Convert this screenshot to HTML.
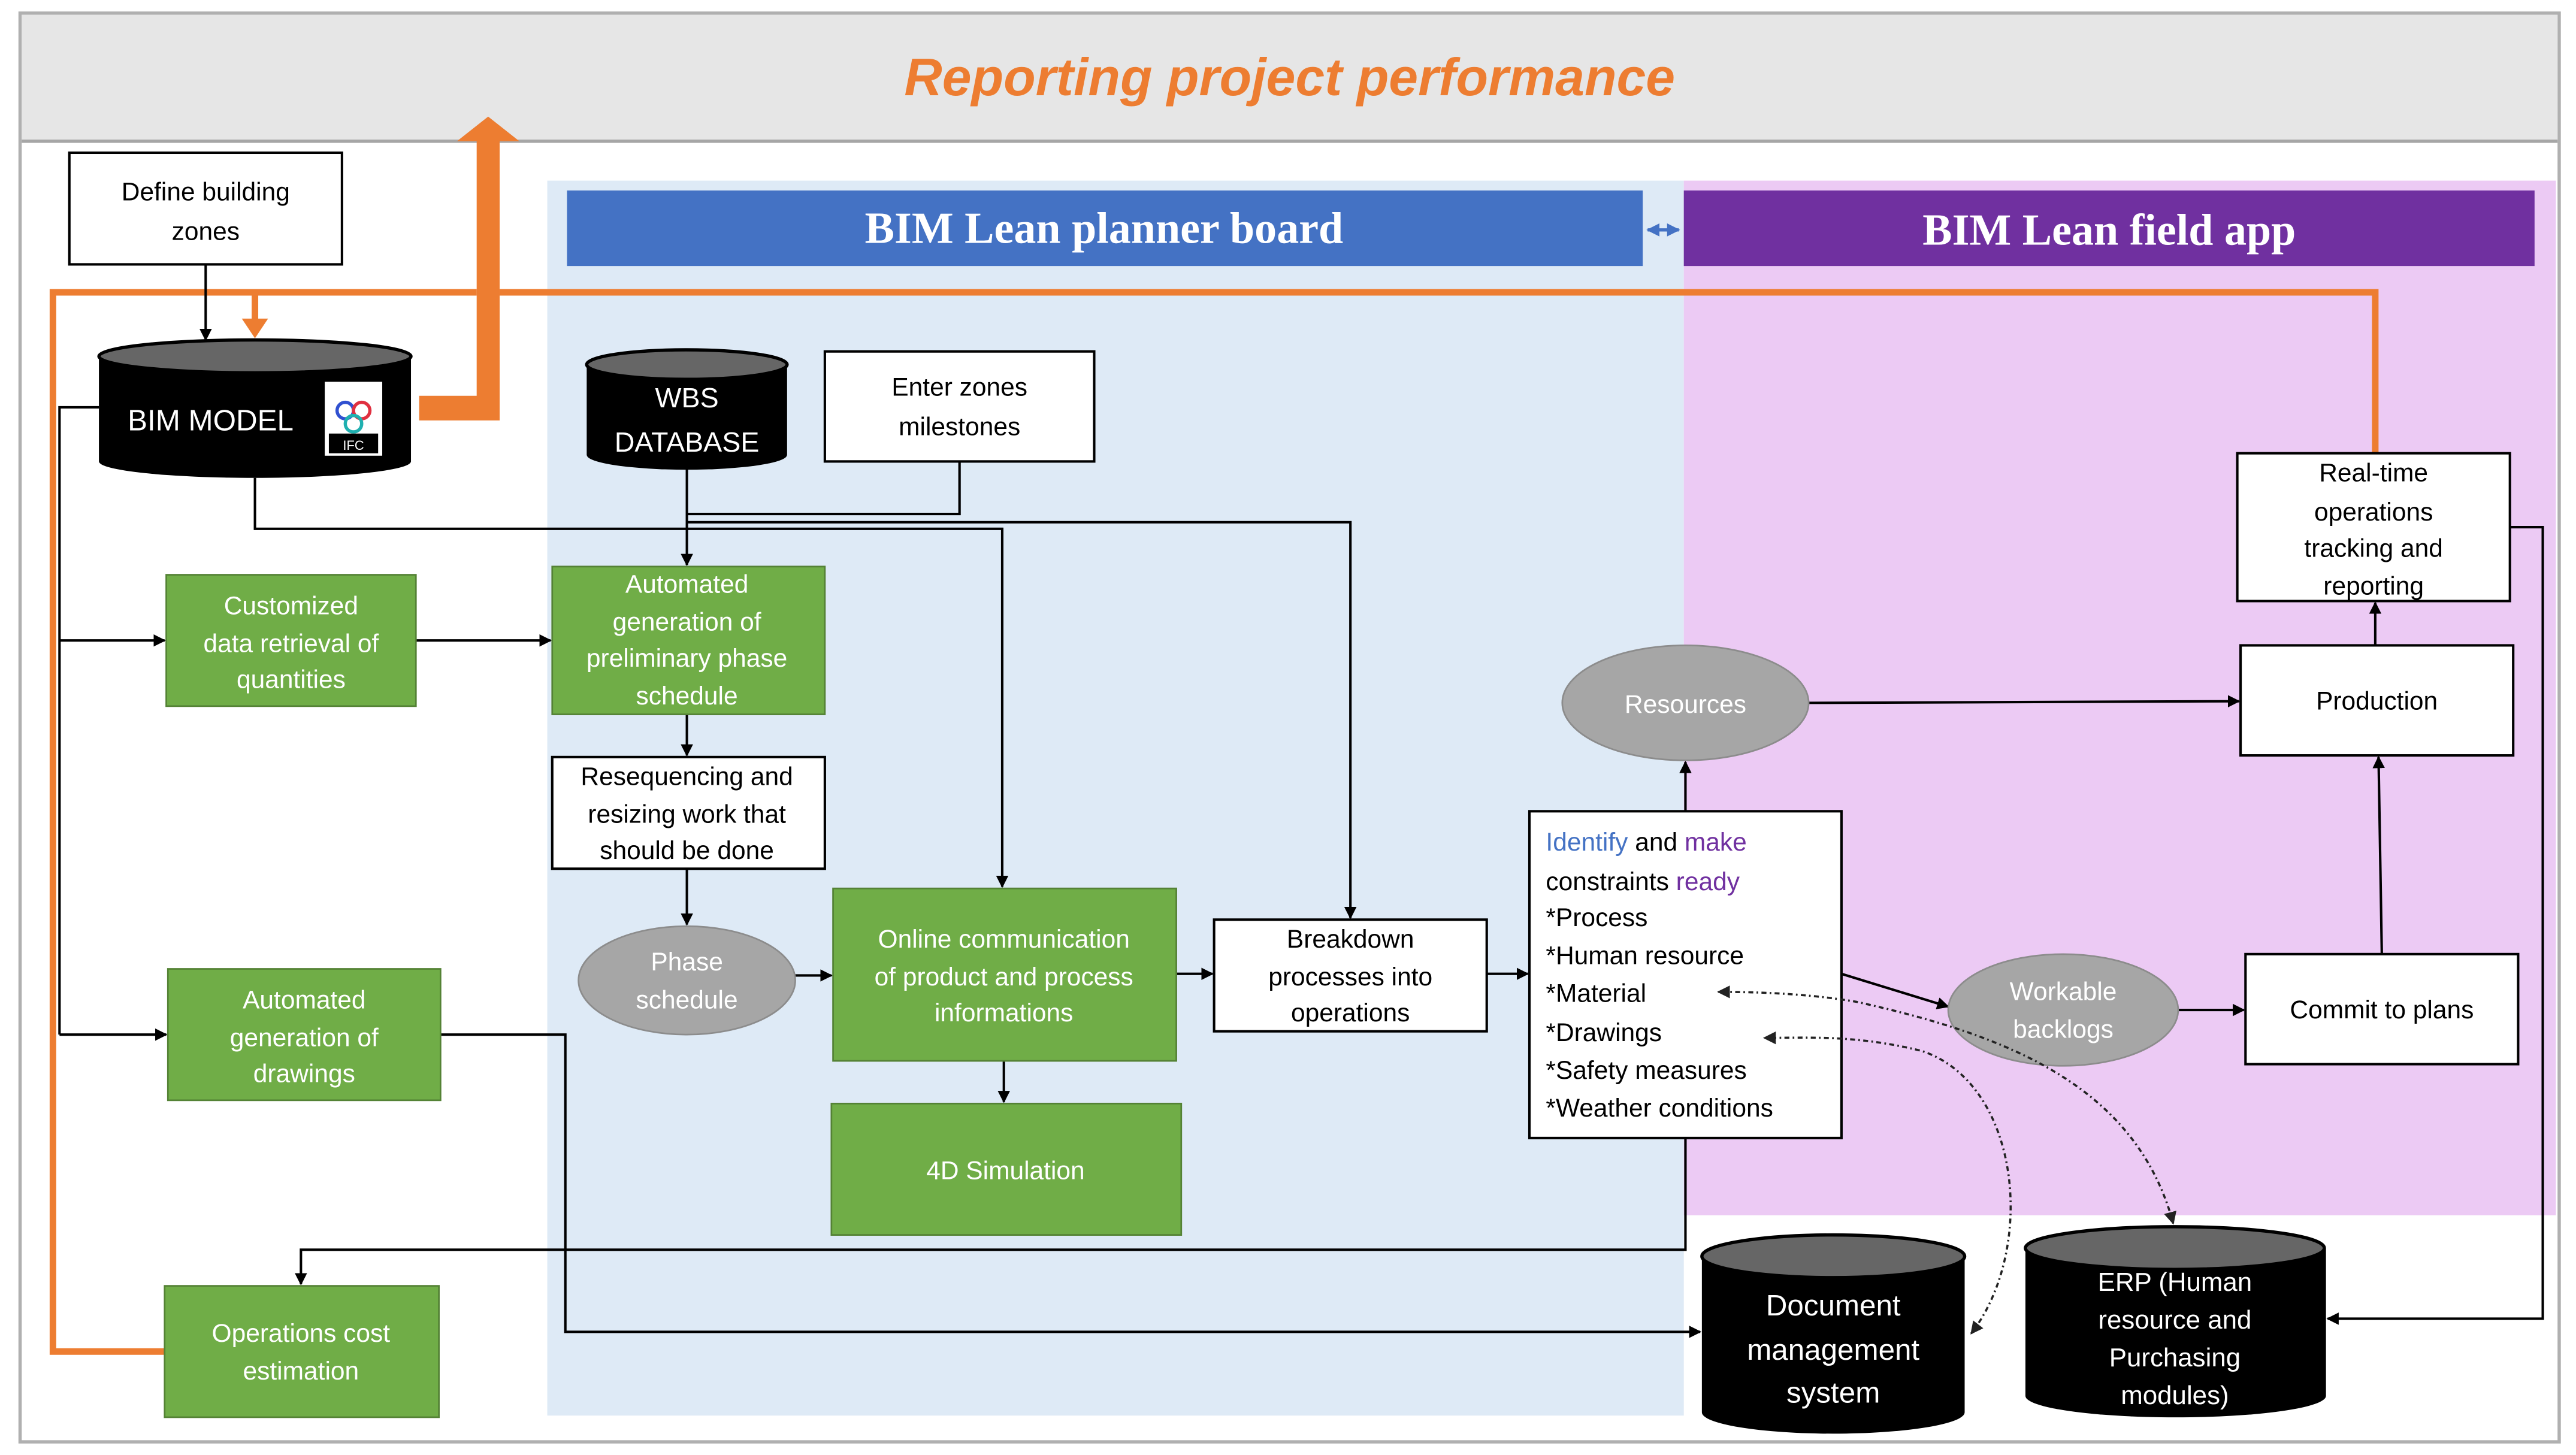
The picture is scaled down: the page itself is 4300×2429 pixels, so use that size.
<!DOCTYPE html>
<html><head><meta charset="utf-8"><style>
html,body{margin:0;padding:0;background:#fff;}
svg{display:block;width:4300px;height:2429px;}
text{font-family:"Liberation Sans",sans-serif;}
</style></head><body>
<svg viewBox="0 0 1568 886" xmlns="http://www.w3.org/2000/svg">
<defs>
<marker id="a" viewBox="0 0 10 10" refX="9" refY="5" markerWidth="5" markerHeight="5" orient="auto-start-reverse"><path d="M0,0L10,5L0,10z" fill="#000"/></marker>
<marker id="d" viewBox="0 0 10 10" refX="9" refY="5" markerWidth="6" markerHeight="6" orient="auto-start-reverse"><path d="M0,0L10,5L0,10z" fill="#222"/></marker>
<marker id="ab" viewBox="0 0 10 10" refX="9" refY="5" markerWidth="4" markerHeight="4" orient="auto-start-reverse"><path d="M0,0L10,5L0,10z" fill="#4472c4"/></marker>
</defs>
<rect x="0" y="0" width="1568" height="886" fill="#fff"/>
<rect x="12" y="8" width="1546" height="870" fill="#fff" stroke="#b0b0b0" stroke-width="2"/>
<rect x="13" y="9" width="1544" height="77" fill="#e6e6e6"/>
<line x1="13" y1="86" x2="1557" y2="86" stroke="#a6a6a6" stroke-width="2"/>
<text x="785" y="58" text-anchor="middle" font-size="32" font-style="italic" font-weight="bold" fill="#ed7d31">Reporting project performance</text>
<rect x="333" y="110" width="692" height="752" fill="#deeaf6"/>
<rect x="1025" y="110" width="531" height="630" fill="#eccaf4"/>
<rect x="345" y="116" width="655" height="46" fill="#4472c4"/>
<text x="672" y="148" text-anchor="middle" font-size="27" font-weight="bold" fill="#fff" style="font-family:'Liberation Serif',serif">BIM Lean planner board</text>
<rect x="1025" y="116" width="518" height="46" fill="#7030a0"/>
<text x="1284" y="149" text-anchor="middle" font-size="27" font-weight="bold" fill="#fff" style="font-family:'Liberation Serif',serif">BIM Lean field app</text>
<line x1="1003" y1="140" x2="1022" y2="140" stroke="#4472c4" stroke-width="2" marker-start="url(#ab)" marker-end="url(#ab)"/>

<g fill="none" stroke="#ed7d31" stroke-width="4">
<polyline points="100,823 32,823 32,178 290,178"/>
<polyline points="304,178 1446,178 1446,276"/>
<line x1="155" y1="178" x2="155" y2="196"/>
</g>
<path d="M147,194 L163,194 L155,206 z" fill="#ed7d31"/>
<path d="M255,241 L290,241 L290,86 L278,86 L297,71 L316,86 L304,86 L304,256 L255,256 z" fill="#ed7d31"/>

<g fill="none" stroke="#000" stroke-width="1.5">
<line x1="125" y1="161" x2="125" y2="207" marker-end="url(#a)"/>
<polyline points="60,248 36,248 36,630"/>
<line x1="36" y1="390" x2="100" y2="390" marker-end="url(#a)"/>
<line x1="36" y1="630" x2="101" y2="630" marker-end="url(#a)"/>
<line x1="253" y1="390" x2="335" y2="390" marker-end="url(#a)"/>
<polyline points="155,291 155,322 610,322 610,540" marker-end="url(#a)"/>
<line x1="418" y1="285" x2="418" y2="344" marker-end="url(#a)"/>
<polyline points="584,281 584,313 418,313"/>
<polyline points="418,318 822,318 822,559" marker-end="url(#a)"/>
<line x1="418" y1="435" x2="418" y2="460" marker-end="url(#a)"/>
<line x1="418" y1="529" x2="418" y2="563" marker-end="url(#a)"/>
<line x1="484" y1="594" x2="506" y2="594" marker-end="url(#a)"/>
<line x1="716" y1="593" x2="738" y2="593" marker-end="url(#a)"/>
<line x1="611" y1="646" x2="611" y2="671" marker-end="url(#a)"/>
<line x1="905" y1="593" x2="930" y2="593" marker-end="url(#a)"/>
<line x1="1026" y1="494" x2="1026" y2="464" marker-end="url(#a)"/>
<line x1="1101" y1="428" x2="1363" y2="427" marker-end="url(#a)"/>
<line x1="1121" y1="593" x2="1186" y2="613" marker-end="url(#a)"/>
<line x1="1326" y1="615" x2="1366" y2="615" marker-end="url(#a)"/>
<line x1="1450" y1="581" x2="1448" y2="461" marker-end="url(#a)"/>
<line x1="1446" y1="393" x2="1446" y2="367" marker-end="url(#a)"/>
<polyline points="268,630 344,630 344,811 1035,811" marker-end="url(#a)"/>
<polyline points="1026,693 1026,761 183,761 183,782" marker-end="url(#a)"/>
<polyline points="1528,321 1548,321 1548,803 1417,803" marker-end="url(#a)"/>
</g>

<g stroke="#000" stroke-width="1.5" fill="#fff">
<rect x="42" y="93" width="166" height="68"/>
<rect x="502" y="214" width="164" height="67"/>
<rect x="336" y="461" width="166" height="68"/>
<rect x="739" y="560" width="166" height="68"/>
<rect x="931" y="494" width="190" height="199"/>
<rect x="1362" y="276" width="166" height="90"/>
<rect x="1364" y="393" width="166" height="67"/>
<rect x="1367" y="581" width="166" height="67"/>
</g>
<g fill="#70ad47" stroke="#548235" stroke-width="1">
<rect x="101" y="350" width="152" height="80"/>
<rect x="336" y="345" width="166" height="90"/>
<rect x="507" y="541" width="209" height="105"/>
<rect x="506" y="672" width="213" height="80"/>
<rect x="102" y="590" width="166" height="80"/>
<rect x="100" y="783" width="167" height="80"/>
</g>
<g fill="#a6a6a6" stroke="#8c8c8c" stroke-width="1">
<ellipse cx="418" cy="597" rx="66" ry="33"/>
<ellipse cx="1026" cy="428" rx="75" ry="35"/>
<ellipse cx="1256" cy="615" rx="70" ry="34"/>
</g>

<g>
<path d="M60,217 L60,281 A95,10 0 0 0 250,281 L250,217 z" fill="#000"/>
<ellipse cx="155" cy="217" rx="95" ry="10" fill="#666" stroke="#000" stroke-width="2"/>
<rect x="197" y="232" width="36" height="46" fill="#fff" stroke="#000"/>
<circle cx="210" cy="250" r="5" fill="none" stroke="#3050d0" stroke-width="2"/>
<circle cx="220" cy="250" r="5" fill="none" stroke="#e03040" stroke-width="2"/>
<circle cx="215" cy="258" r="5" fill="none" stroke="#20b0b0" stroke-width="2"/>
<rect x="200" y="264" width="30" height="12" fill="#000"/>
<text x="215" y="274" text-anchor="middle" font-size="8" fill="#fff">IFC</text>
<text x="128" y="262" text-anchor="middle" font-size="18" fill="#fff">BIM MODEL</text>

<path d="M357,222 L357,277 A61,9 0 0 0 479,277 L479,222 z" fill="#000"/>
<ellipse cx="418" cy="222" rx="61" ry="9" fill="#666" stroke="#000" stroke-width="2"/>
<text x="418" y="248" text-anchor="middle" font-size="17" fill="#fff">WBS</text>
<text x="418" y="275" text-anchor="middle" font-size="17" fill="#fff">DATABASE</text>

<path d="M1036,765 L1036,860 A80,13 0 0 0 1196,860 L1196,765 z" fill="#000"/>
<ellipse cx="1116" cy="765" rx="80" ry="13" fill="#666" stroke="#000" stroke-width="2"/>
<text x="1116" y="801" text-anchor="middle" font-size="18" fill="#fff">Document</text>
<text x="1116" y="828" text-anchor="middle" font-size="18" fill="#fff">management</text>
<text x="1116" y="854" text-anchor="middle" font-size="18" fill="#fff">system</text>

<path d="M1233,760 L1233,850 A91,13 0 0 0 1416,850 L1416,760 z" fill="#000"/>
<ellipse cx="1324" cy="760" rx="91" ry="13" fill="#666" stroke="#000" stroke-width="2"/>
<text x="1324" y="786" text-anchor="middle" font-size="16" fill="#fff">ERP (Human</text>
<text x="1324" y="809" text-anchor="middle" font-size="16" fill="#fff">resource and</text>
<text x="1324" y="832" text-anchor="middle" font-size="16" fill="#fff">Purchasing</text>
<text x="1324" y="855" text-anchor="middle" font-size="16" fill="#fff">modules)</text>
</g>

<g fill="none" stroke="#222" stroke-width="1.3" stroke-dasharray="3,2,1,2">
<path d="M1200,812 C1240,760 1230,660 1170,640 C1130,630 1100,632 1074,632" marker-start="url(#d)" marker-end="url(#d)"/>
<path d="M1323,745 C1300,660 1220,630 1130,610 C1100,605 1070,604 1046,604" marker-start="url(#d)" marker-end="url(#d)"/>
</g>

<g font-size="15.5" text-anchor="middle" fill="#000">
<text x="125" y="122">Define building</text><text x="125" y="146">zones</text>
<text x="584" y="241">Enter zones</text><text x="584" y="265">milestones</text>
<text x="418" y="478">Resequencing and</text><text x="418" y="501">resizing work that</text><text x="418" y="523">should be done</text>
<text x="822" y="577">Breakdown</text><text x="822" y="600">processes into</text><text x="822" y="622">operations</text>
<text x="1445" y="293">Real-time</text><text x="1445" y="317">operations</text><text x="1445" y="339">tracking and</text><text x="1445" y="362">reporting</text>
<text x="1447" y="432">Production</text>
<text x="1450" y="620">Commit to plans</text>
</g>
<g font-size="15.5" text-anchor="middle" fill="#fff">
<text x="177" y="374">Customized</text><text x="177" y="397">data retrieval of</text><text x="177" y="419">quantities</text>
<text x="418" y="361">Automated</text><text x="418" y="384">generation of</text><text x="418" y="406">preliminary phase</text><text x="418" y="429">schedule</text>
<text x="418" y="591">Phase</text><text x="418" y="614">schedule</text>
<text x="611" y="577">Online communication</text><text x="611" y="600">of product and process</text><text x="611" y="622">informations</text>
<text x="612" y="718">4D Simulation</text>
<text x="185" y="614">Automated</text><text x="185" y="637">generation of</text><text x="185" y="659">drawings</text>
<text x="183" y="817">Operations cost</text><text x="183" y="840">estimation</text>
<text x="1026" y="434">Resources</text>
<text x="1256" y="609">Workable</text><text x="1256" y="632">backlogs</text>
</g>
<g font-size="15.5" fill="#000">
<text x="941" y="518"><tspan fill="#4472c4">Identify</tspan> and <tspan fill="#7030a0">make</tspan></text>
<text x="941" y="542">constraints <tspan fill="#7030a0">ready</tspan></text>
<text x="941" y="564">*Process</text>
<text x="941" y="587">*Human resource</text>
<text x="941" y="610">*Material</text>
<text x="941" y="634">*Drawings</text>
<text x="941" y="657">*Safety measures</text>
<text x="941" y="680">*Weather conditions</text>
</g>
</svg>
</body></html>
